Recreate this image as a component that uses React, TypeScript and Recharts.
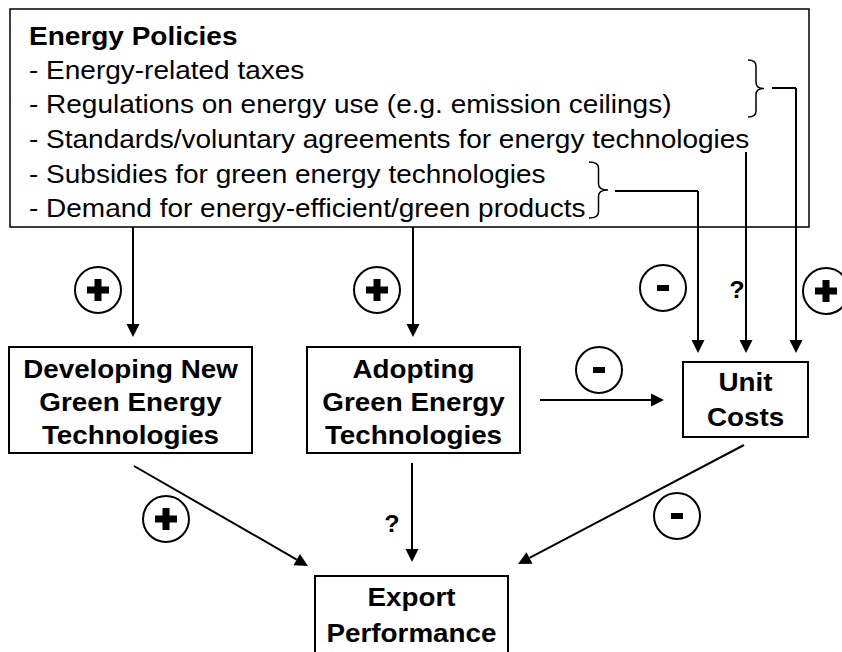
import React from 'react';
import { ScatterChart, Scatter, XAxis, YAxis, ReferenceLine, ReferenceArea } from 'recharts';

const W = 842;
const H = 652;
const FONT = '"Liberation Sans", Arial, Helvetica, sans-serif';

// diagram coordinates (x right, y down)
const policyTitle = 'Energy Policies';
const policyItems = [
  '- Energy-related taxes',
  '- Regulations on energy use (e.g. emission ceilings)',
  '- Standards/voluntary agreements for energy technologies',
  '- Subsidies for green energy technologies',
  '- Demand for energy-efficient/green products',
];
const policyRows = [79, 113, 148, 183, 217];

const boxes = [
  { id: 'policy', x1: 10, x2: 809, y1: 9, y2: 227, sw: 1.5 },
  { id: 'develop', x1: 9, x2: 252, y1: 347, y2: 453, sw: 2 },
  { id: 'adopt', x1: 307, x2: 520, y1: 347, y2: 453, sw: 2 },
  { id: 'cost', x1: 683, x2: 808, y1: 362, y2: 437, sw: 2 },
  { id: 'export', x1: 315, x2: 508, y1: 576, y2: 690, sw: 2 },
];

const boxLabels = [
  { x: 130.5, y: 378, text: 'Developing New' },
  { x: 130.5, y: 411, text: 'Green Energy' },
  { x: 130.5, y: 444, text: 'Technologies' },
  { x: 413.5, y: 378, text: 'Adopting' },
  { x: 413.5, y: 411, text: 'Green Energy' },
  { x: 413.5, y: 444, text: 'Technologies' },
  { x: 745.5, y: 391, text: 'Unit' },
  { x: 745.5, y: 426, text: 'Costs' },
  { x: 411.5, y: 606, text: 'Export' },
  { x: 411.5, y: 642, text: 'Performance' },
];

const braces = [
  { x1: 748, x2: 764, y1: 60, y2: 117 },
  { x1: 589, x2: 608, y1: 162, y2: 218 },
];

const connectors = [
  { x1: 772, y1: 88, x2: 796, y2: 88 },
  { x1: 615, y1: 191, x2: 698, y2: 191 },
];

const arrows = [
  { x1: 133, y1: 227, x2: 133, y2: 337 },
  { x1: 413, y1: 227, x2: 413, y2: 337 },
  { x1: 698, y1: 191, x2: 698, y2: 353 },
  { x1: 746, y1: 152, x2: 746, y2: 353 },
  { x1: 796, y1: 88, x2: 796, y2: 353 },
  { x1: 540, y1: 400, x2: 664, y2: 400 },
  { x1: 412, y1: 463, x2: 412, y2: 562 },
  { x1: 134, y1: 466, x2: 308, y2: 566 },
  { x1: 744, y1: 445, x2: 518, y2: 564 },
];

const signs = [
  { x: 98, y: 290, sign: '+' },
  { x: 377, y: 290, sign: '+' },
  { x: 663, y: 288, sign: '-' },
  { x: 826, y: 291, sign: '+' },
  { x: 599, y: 370, sign: '-' },
  { x: 166, y: 519, sign: '+' },
  { x: 677, y: 516, sign: '-' },
];

const questions = [
  { x: 737, y: 298, text: '?' },
  { x: 392, y: 532, text: '?' },
];

// size / horizontal stretch per text kind (the source image is a bit wider than tall)
const textStyle: Record<string, { size: number; stretch: number; weight: number }> = {
  title: { size: 25, stretch: 1.12, weight: 700 },
  item: { size: 25, stretch: 1.12, weight: 400 },
  label: { size: 26, stretch: 1.07, weight: 700 },
  q: { size: 24, stretch: 1.05, weight: 700 },
};

const textItems = [
  { x: 29, y: 45, text: policyTitle, kind: 'title', anchor: 'start' },
  ...policyItems.map((t, i) => ({ x: 29, y: policyRows[i], text: t, kind: 'item', anchor: 'start' })),
  ...boxLabels.map((l) => ({ ...l, kind: 'label', anchor: 'middle' })),
  ...questions.map((q) => ({ ...q, kind: 'q', anchor: 'middle' })),
];

const textShape = (p: any) => {
  const { cx, cy, payload } = p;
  const st = textStyle[payload.kind];
  return (
    <text
      transform={`translate(${cx},${cy}) scale(${st.stretch},1)`}
      textAnchor={payload.anchor}
      fontFamily={FONT}
      fontSize={st.size}
      fontWeight={st.weight}
      fill="#000"
    >
      {payload.text}
    </text>
  );
};

const signShape = (p: any) => {
  const { cx, cy, payload } = p;
  return (
    <g>
      <circle cx={cx} cy={cy} r={23} fill="#fff" stroke="#000" strokeWidth={2} />
      {payload.sign === '+' ? (
        <g fill="#000">
          <rect x={cx - 11} y={cy - 3.5} width={22} height={7} />
          <rect x={cx - 3.5} y={cy - 11} width={7} height={22} />
        </g>
      ) : (
        <rect x={cx - 6} y={cy - 3} width={12} height={6} fill="#000" />
      )}
    </g>
  );
};

const plainLine = (p: any) => (
  <line x1={p.x1} y1={p.y1} x2={p.x2} y2={p.y2} stroke="#000" strokeWidth={2} />
);

const arrowLine = (p: any) => {
  const { x1, y1, x2, y2 } = p;
  const a = Math.atan2(y2 - y1, x2 - x1);
  const len = 13;
  const hw = 6.5;
  const bx = x2 - len * Math.cos(a);
  const by = y2 - len * Math.sin(a);
  const px = -Math.sin(a) * hw;
  const py = Math.cos(a) * hw;
  return (
    <g>
      <line x1={x1} y1={y1} x2={bx} y2={by} stroke="#000" strokeWidth={2} />
      <polygon points={`${x2},${y2} ${bx + px},${by + py} ${bx - px},${by - py}`} fill="#000" />
    </g>
  );
};

const braceShape = (p: any) => {
  const { x1, y1, x2, y2 } = p;
  const xm = (x1 + x2) / 2;
  const ym = (y1 + y2) / 2;
  const r = 6;
  const d = [
    `M${x1},${y1}`,
    `Q${xm},${y1} ${xm},${y1 + r}`,
    `L${xm},${ym - r}`,
    `Q${xm},${ym} ${x2},${ym}`,
    `Q${xm},${ym} ${xm},${ym + r}`,
    `L${xm},${y2 - r}`,
    `Q${xm},${y2} ${x1},${y2}`,
  ].join(' ');
  return <path d={d} fill="none" stroke="#000" strokeWidth={1.5} />;
};

const App: React.FC = () => {
  return (
    <div style={{ position: 'absolute', left: 0, top: 0, width: W, height: H, background: '#fff' }}>
      <ScatterChart width={W} height={H} margin={{ top: 0, right: 0, bottom: 0, left: 0 }}>
        <XAxis type="number" dataKey="x" domain={[0, W]} allowDataOverflow hide />
        <YAxis type="number" dataKey="y" domain={[0, H]} allowDataOverflow reversed hide />
        {boxes.map((b) => (
          <ReferenceArea
            key={b.id}
            x1={b.x1}
            x2={b.x2}
            y1={b.y1}
            y2={b.y2}
            fill="none"
            stroke="#000"
            strokeWidth={b.sw}
            ifOverflow="visible"
          />
        ))}
        {braces.map((b, i) => (
          <ReferenceLine
            key={`brace-${i}`}
            segment={[{ x: b.x1, y: b.y1 }, { x: b.x2, y: b.y2 }]}
            shape={braceShape}
            ifOverflow="visible"
          />
        ))}
        {connectors.map((c, i) => (
          <ReferenceLine
            key={`conn-${i}`}
            segment={[{ x: c.x1, y: c.y1 }, { x: c.x2, y: c.y2 }]}
            shape={plainLine}
            ifOverflow="visible"
          />
        ))}
        {arrows.map((c, i) => (
          <ReferenceLine
            key={`arrow-${i}`}
            segment={[{ x: c.x1, y: c.y1 }, { x: c.x2, y: c.y2 }]}
            shape={arrowLine}
            ifOverflow="visible"
          />
        ))}
        <Scatter data={signs} shape={signShape} isAnimationActive={false} />
        <Scatter data={textItems} shape={textShape} isAnimationActive={false} />
      </ScatterChart>
    </div>
  );
};

export default App;
